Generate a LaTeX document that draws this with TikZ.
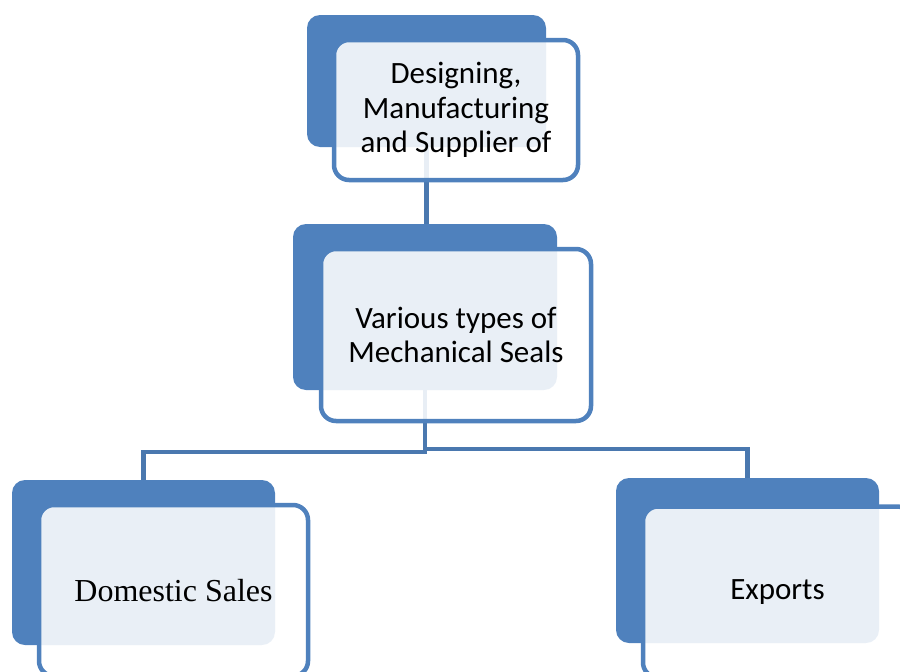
\documentclass[tikz,border=0pt]{standalone}
\usepackage{fontspec}
\setmainfont{Carlito}
\newfontfamily\timesfont{Liberation Serif}
\pgfdeclarelayer{bg}
\pgfsetlayers{bg,main}
\definecolor{accent}{HTML}{4F81BD}
\definecolor{linkc}{HTML}{4A78AF}
\tikzset{
  backbox/.style={rectangle, rounded corners=13pt, fill=accent, draw=none, inner sep=0pt},
  frontbox/.style={rectangle, rounded corners=15pt, fill=white, fill opacity=0.88, text opacity=1,
    draw=accent, draw opacity=1, line width=4.5pt, inner sep=0pt, align=center,
    font=\fontsize{31}{34.5}\selectfont},
  link/.style={draw=linkc, line width=4.5pt}
}
\begin{document}
\begin{tikzpicture}[x=1pt,y=-1pt]
\useasboundingbox (0,0) rectangle (900,672);
\clip (0,0) rectangle (900,672);
% back boxes
\node[backbox, minimum width=239pt, minimum height=132pt] (b1) at (426.5,81) {};
\node[backbox, minimum width=264pt, minimum height=166pt] (b2) at (425,307) {};
\node[backbox, minimum width=263pt, minimum height=165pt] (b3) at (143.5,562.5) {};
\node[backbox, minimum width=263pt, minimum height=165pt] (b4) at (747.5,560.5) {};
% front boxes
\node[frontbox, minimum width=244pt, minimum height=140pt] (f1) at (456,110)
  {Designing,\\Manufacturing\\and Supplier of};
\node[frontbox, minimum width=270pt, minimum height=172pt] (f2) at (456,335)
  {Various types of\\Mechanical Seals};
\node[frontbox, minimum width=269pt, minimum height=171pt, font=\timesfont\fontsize{32}{36}\selectfont] (f3) at (173.5,590.5)
  {Domestic Sales};
\node[frontbox, minimum width=269pt, minimum height=171pt] (f4) at (777.5,592)
  {Exports};
% connectors
\begin{pgfonlayer}{bg}
\draw[link] (b1.south) -- (b1.south |- b2.north);
\draw[link] (b2.south) -- ++(0,62) -| (b3.north);
\draw[link] (b2.south) -- ++(0,59) -| (b4.north);
\end{pgfonlayer}
\end{tikzpicture}
\end{document}
